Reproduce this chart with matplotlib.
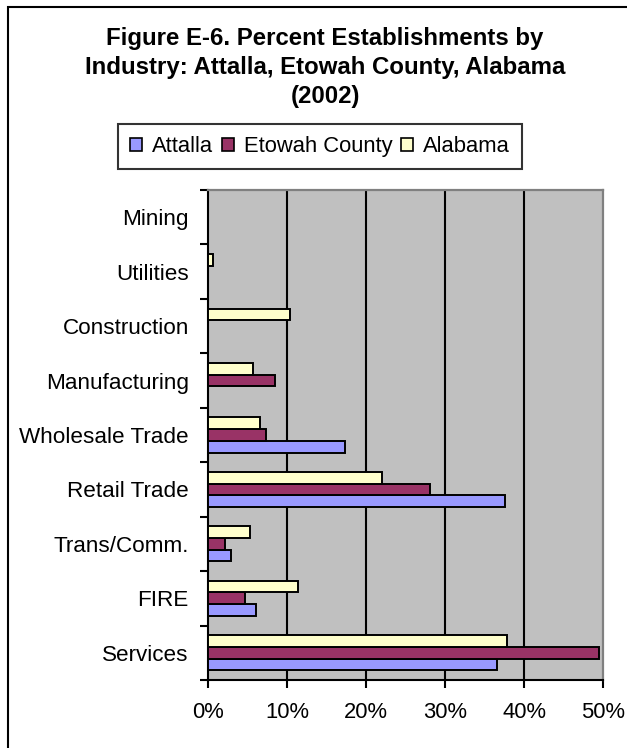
import matplotlib
matplotlib.use("Agg")
import matplotlib.pyplot as plt
import numpy as np
from matplotlib.patches import Patch, Rectangle
from matplotlib.ticker import FuncFormatter

plt.rcParams['font.family'] = ['Liberation Sans', 'DejaVu Sans']

# Industries, listed top to bottom as shown on the chart
categories = ["Mining", "Utilities", "Construction", "Manufacturing",
              "Wholesale Trade", "Retail Trade", "Trans/Comm.", "FIRE", "Services"]
series_names = ["Attalla", "Etowah County", "Alabama"]

# Percent of establishments by industry (2002)
attalla = [0.0, 0.0, 0.0, 0.0, 17.3, 37.5, 2.9, 6.0, 36.5]
etowah = [0.0, 0.0, 0.0, 8.4, 7.3, 28.1, 2.1, 4.7, 49.4]
alabama = [0.0, 0.6, 10.4, 5.7, 6.5, 22.0, 5.3, 11.3, 37.8]

x_ticks = [0, 10, 20, 30, 40, 50]

colors = ["#9999FF", "#993366", "#FFFFCC"]

W, H = 627, 748
fig = plt.figure(figsize=(W / 100, H / 100), dpi=100)
fig.patch.set_facecolor("white")

left, right, top, bottom = 208.3, 603.3, 190, 680
ax = fig.add_axes([left / W, 1 - bottom / H, (right - left) / W, (bottom - top) / H])
ax.set_facecolor("#C0C0C0")

# Services at the bottom (y = 0), Mining at the top
n = len(categories)
ypos = np.arange(n)[::-1]
bh = 0.215

for vals, off, col in zip([attalla, etowah, alabama], [-bh, 0, bh], colors):
    bars = ax.barh(ypos + off, vals, height=bh, color=col, edgecolor="black",
                   linewidth=1.4, zorder=3)
    for b, v in zip(bars, vals):
        if v == 0:
            b.set_visible(False)

ax.set_xlim(0, 50)
ax.set_ylim(-0.5, n - 0.5)

ax.set_xticks(x_ticks)
ax.xaxis.set_major_formatter(FuncFormatter(lambda v, p: f"{v:.0f}%"))
ax.tick_params(axis="x", direction="out", length=6, width=1.5, pad=10,
               labelsize=15.8, colors="black")

ax.set_yticks(ypos)
ax.set_yticklabels(categories)
ax.set_yticks(np.arange(-0.5, n, 1.0), minor=True)
ax.tick_params(axis="y", which="major", length=0, pad=14, labelsize=16.2)
ax.tick_params(axis="y", which="minor", direction="out", length=6, width=1.5)

for xv in x_ticks[1:-1]:
    ax.axvline(xv, color="black", linewidth=1.5, zorder=1)

for side in ("left", "bottom"):
    ax.spines[side].set_color("black")
    ax.spines[side].set_linewidth(1.5)
for side in ("top", "right"):
    ax.spines[side].set_color("#808080")
    ax.spines[side].set_linewidth(1.6)

# Title
fig.text(325 / W, 1 - 27 / H,
         "Figure E-6. Percent Establishments by\nIndustry: Attalla, Etowah County, Alabama\n(2002)",
         ha="center", va="top", fontsize=17.3, fontweight="bold", linespacing=1.32)

# Legend
handles = [Patch(facecolor=c, edgecolor="black", linewidth=1.2) for c in colors]
leg = fig.legend(handles, series_names, loc="center", ncol=3,
                 bbox_to_anchor=(320 / W, 1 - 146.5 / H),
                 fontsize=15.8, frameon=True, fancybox=False,
                 handlelength=0.55, handleheight=0.55, handletextpad=0.45,
                 columnspacing=0.4, borderpad=0.55, borderaxespad=0)
leg.get_frame().set_edgecolor("black")
leg.get_frame().set_linewidth(1.5)

# Outer chart frame
fig.patches.append(Rectangle((7.5 / W, -0.1), 1.2, 1 - 7.5 / H + 0.1,
                             transform=fig.transFigure, fill=False,
                             edgecolor="black", linewidth=1.5))

fig.savefig("out.png", dpi=100)
